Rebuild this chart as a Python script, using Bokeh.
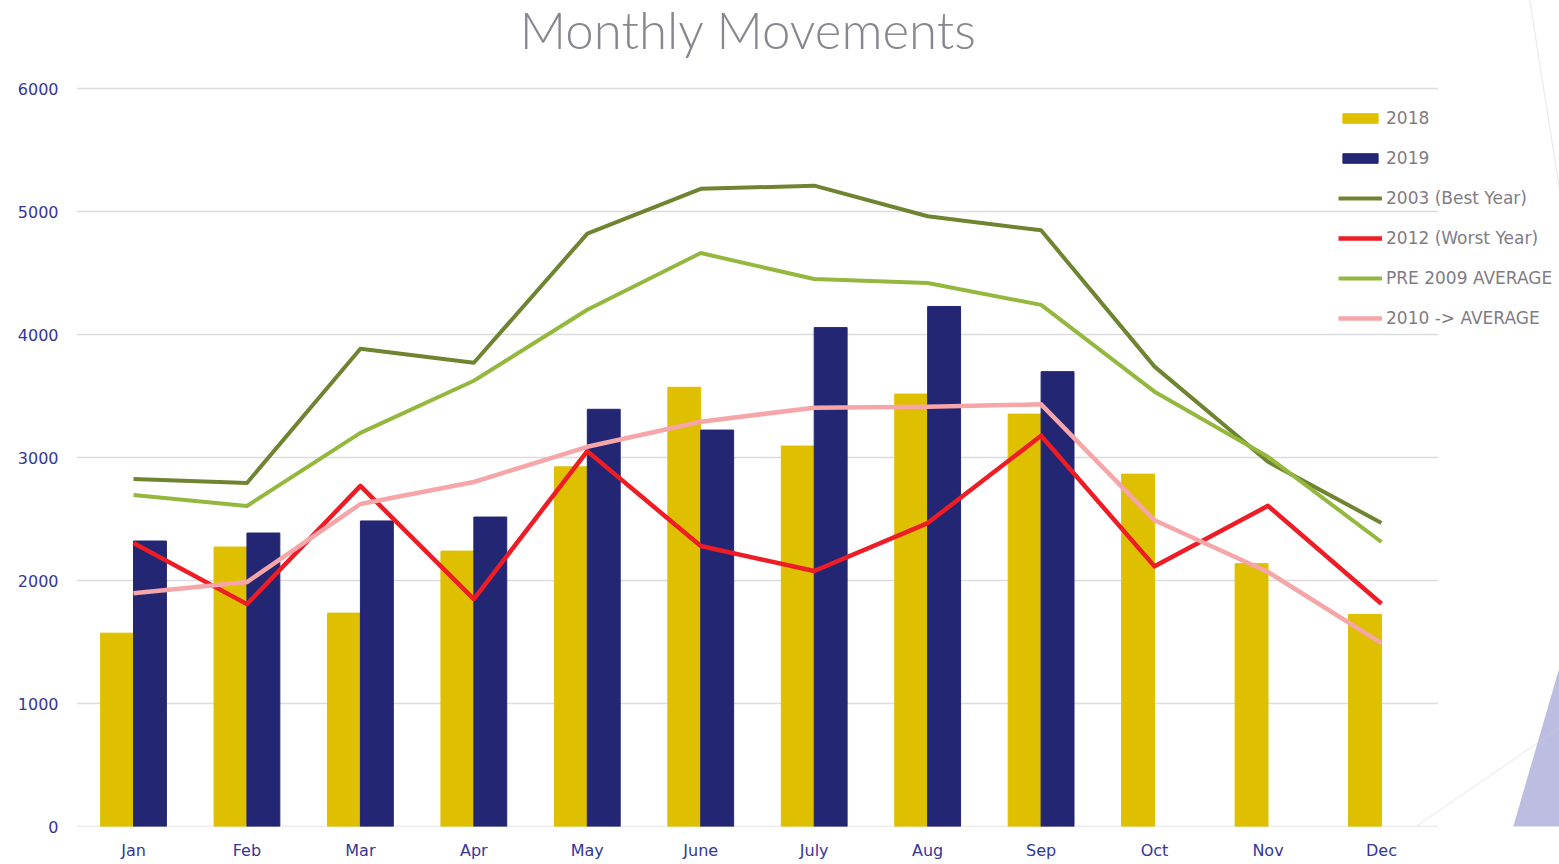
from bokeh.plotting import figure
from bokeh.models import (Legend, LegendItem, ColumnDataSource, FixedTicker,
                          PolyAnnotation, Label)
from bokeh.transform import dodge
from bokeh.embed import file_html
from bokeh.resources import INLINE

months = ["Jan", "Feb", "Mar", "Apr", "May", "June", "July", "Aug", "Sep", "Oct", "Nov", "Dec"]
nan = float("nan")
y2018 = [1572, 2272, 1735, 2239, 2924, 3571, 3093, 3516, 3353, 2865, 2137, 1724]
y2019 = [2321, 2386, 2484, 2516, 3392, 3223, 4056, 4228, 3698, nan, nan, nan]
best2003 = [2826, 2793, 3884, 3770, 4820, 5184, 5210, 4961, 4847, 3739, 2965, 2468]
worst2012 = [2305, 1808, 2769, 1849, 3052, 2280, 2077, 2467, 3177, 2115, 2607, 1811]
pre2009 = [2695, 2606, 3200, 3624, 4201, 4662, 4451, 4418, 4241, 3535, 3006, 2313]
avg2010 = [1897, 1987, 2622, 2801, 3087, 3291, 3405, 3413, 3432, 2490, 2069, 1491]
yticks = [0, 1000, 2000, 3000, 4000, 5000, 6000]
idx = list(range(len(months)))

# ---- layout (pixels) ----
W, H = 1559, 864
FRAME_L, FRAME_B = 76, 826          # plot frame left / bottom (px)
CAT0, CATW = 133.0, 113.45          # centre of first category, px per category
PX_PER_UNIT = (826 - 88) / 6000.0   # y scale

def to_data(sx, sy):
    return ((sx - CAT0) / CATW, (FRAME_B - sy) / PX_PER_UNIT)

x_start, _ = to_data(FRAME_L, 0)
x_end, y_end = to_data(W, 0)

src = ColumnDataSource(dict(i=idx, y2018=y2018, y2019=y2019, b=best2003,
                            w=worst2012, p=pre2009, a=avg2010))

p = figure(x_range=(x_start, x_end), y_range=(0, y_end), width=W, height=H,
           output_backend="svg", toolbar_location=None,
           min_border_left=FRAME_L, min_border_right=0, min_border_top=0,
           min_border_bottom=H - FRAME_B)
p.outline_line_color = None
p.background_fill_color = "white"
p.border_fill_color = "white"
p.xgrid.grid_line_color = None
p.ygrid.grid_line_color = None

# horizontal gridlines limited to the category span
p.segment(x0=idx[0] - 0.5, x1=idx[-1] + 0.5, y0=yticks, y1=yticks,
          line_color="#dcdcdc", line_width=1.6)

bw = 0.29
r18 = p.vbar(x=dodge("i", -bw / 2), top="y2018", width=bw, bottom=0,
             source=src, fill_color="#DEC000", line_color="#DEC000")
r19 = p.vbar(x=dodge("i", bw / 2), top="y2019", width=bw, bottom=0,
             source=src, fill_color="#232673", line_color="#232673")
rb = p.line("i", "b", source=src, line_color="#6F8430", line_width=4, line_join="round")
rw = p.line("i", "w", source=src, line_color="#EE1C25", line_width=4.5, line_join="round")
rp = p.line("i", "p", source=src, line_color="#94B83E", line_width=4, line_join="round")
ra = p.line("i", "a", source=src, line_color="#F6A5A8", line_width=4.5, line_join="round")

p.xaxis.ticker = FixedTicker(ticks=idx)
p.xaxis.major_label_overrides = {i: m for i, m in zip(idx, months)}
p.yaxis.ticker = FixedTicker(ticks=yticks)
for ax in (p.xaxis[0], p.yaxis[0]):
    ax.axis_line_color = None
    ax.major_tick_line_color = None
    ax.minor_tick_line_color = None
    ax.major_tick_out = 0
    ax.major_tick_in = 0
    ax.minor_tick_out = 0
    ax.major_label_text_font = "DejaVu Sans"
    ax.major_label_text_font_size = "16px"
    ax.major_label_text_color = "#34369a"
p.yaxis.major_label_standoff = 18
p.xaxis.major_label_standoff = 14

# title
tx, ty = to_data(748, 29)
p.add_layout(Label(x=tx, y=ty, text="Monthly Movements", text_align="center",
                   text_baseline="alphabetic",
                   text_font="'Lato Light', 'Open Sans Light', Lato",
                   text_font_size="51px", text_color="#8a8690"))

legend = Legend(items=[
    LegendItem(label="2018", renderers=[r18]),
    LegendItem(label="2019", renderers=[r19]),
    LegendItem(label="2003 (Best Year)", renderers=[rb]),
    LegendItem(label="2012 (Worst Year)", renderers=[rw]),
    LegendItem(label="PRE 2009 AVERAGE", renderers=[rp]),
    LegendItem(label="2010 -> AVERAGE", renderers=[ra]),
], location=(1338 - FRAME_L, FRAME_B - 328))
legend.glyph_width = 44
legend.glyph_height = 12
legend.label_height = 12
legend.spacing = 20
legend.padding = 0
legend.margin = 0
legend.label_standoff = 4
legend.border_line_color = None
legend.background_fill_alpha = 0
legend.label_text_font = "DejaVu Sans"
legend.label_text_font_size = "17px"
legend.label_text_color = "#7f7c85"
p.add_layout(legend, "center")

# slide decorations (converted from pixel positions)
def poly(pts, **kw):
    xs, ys = zip(*[to_data(a, b) for a, b in pts])
    p.add_layout(PolyAnnotation(xs=list(xs), ys=list(ys), **kw))

poly([(1500, 870), (1561, 660), (1575, 660), (1575, 870)],
     fill_color="#bcbde0", fill_alpha=1, line_color=None)
poly([(1360, 864), (1562, 725), (1562, 725.5), (1360, 864.5)],
     fill_alpha=0, line_color="#cfcfcf", line_width=1.2)
poly([(1529, -2), (1560, 195), (1560, 195.5), (1529, -1.5)],
     fill_alpha=0, line_color="#bdbdbd", line_width=1.2)

open("out.html", "w").write(file_html(p, INLINE))
